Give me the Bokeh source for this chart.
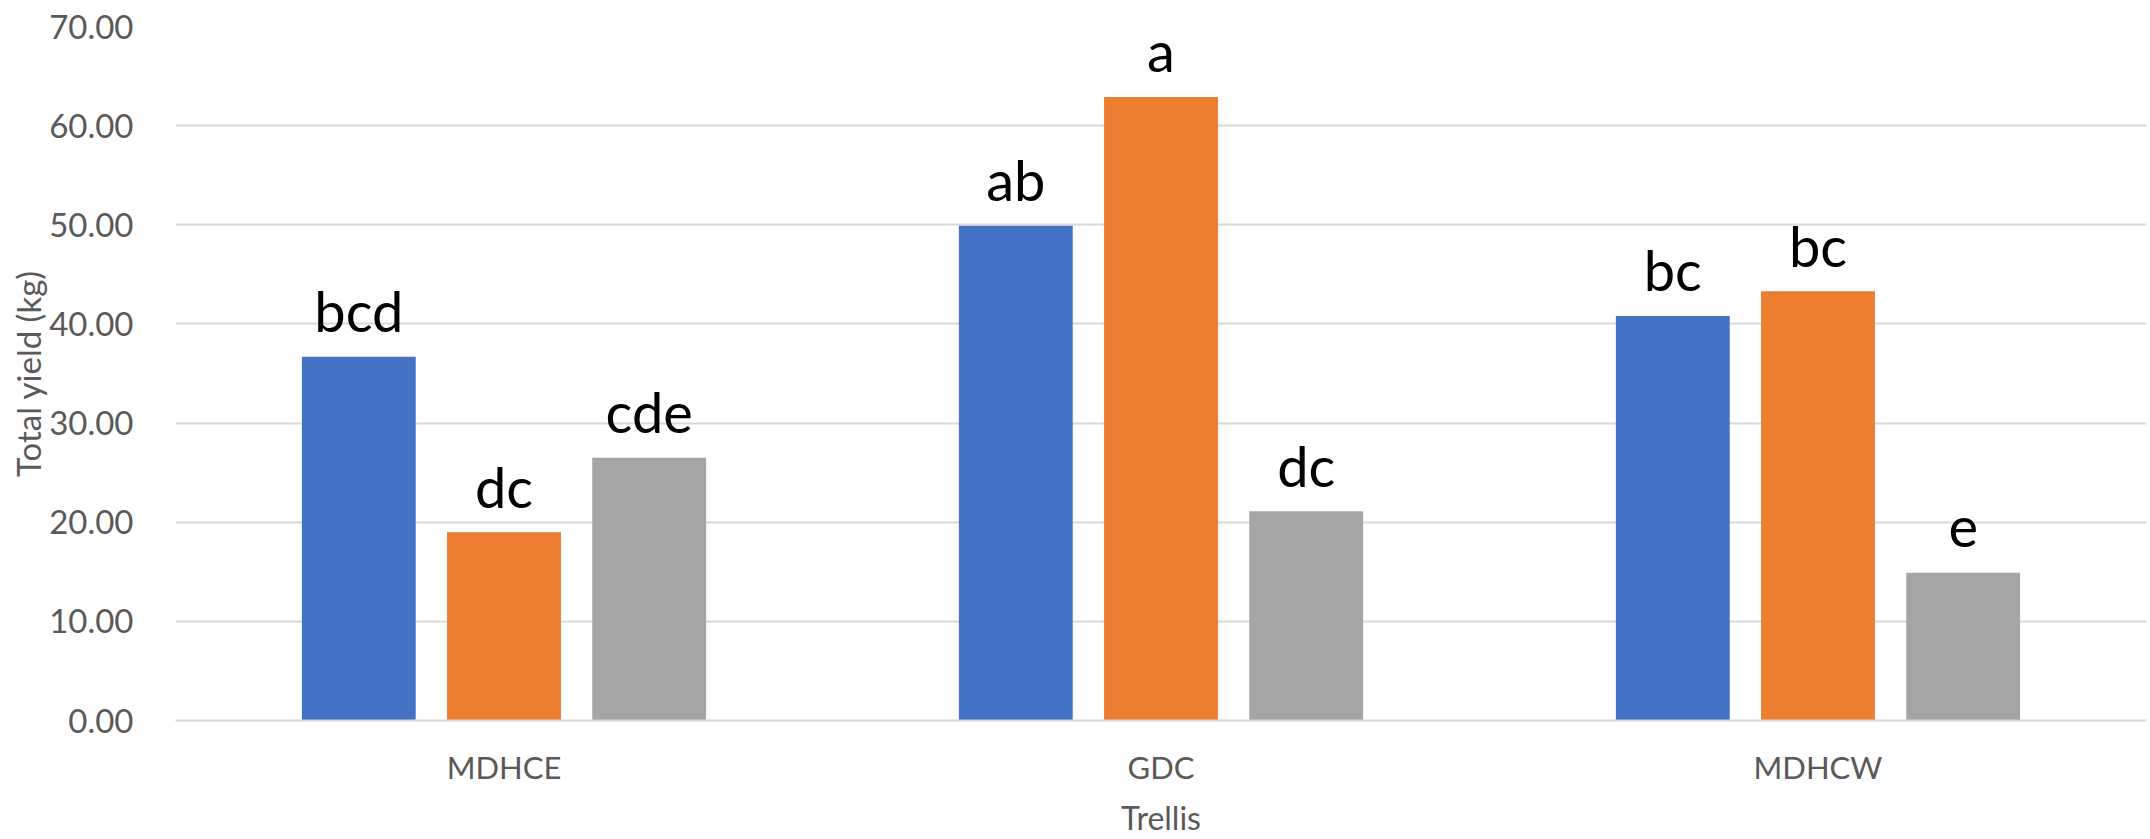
from bokeh.plotting import figure
from bokeh.models import FactorRange, Range1d, FixedTicker, NumeralTickFormatter, ColumnDataSource
from bokeh.transform import dodge
from bokeh.core.properties import value
from bokeh.embed import file_html
from bokeh.resources import INLINE

trellis = ["MDHCE", "GDC", "MDHCW"]
series1 = [36.7, 49.9, 40.8]
series2 = [19.0, 62.9, 43.3]
series3 = [26.5, 21.1, 14.9]
labels1 = ["bcd", "ab", "bc"]
labels2 = ["dc", "a", "bc"]
labels3 = ["cde", "dc", "e"]
y_ticks = [0, 10, 20, 30, 40, 50, 60, 70]

colors = ["#4472C4", "#ED7D31", "#A5A5A5"]
offsets = [-0.221, 0.0, 0.221]
FONT = "Lato"

p = figure(width=2150, height=839, x_range=FactorRange(factors=trellis),
           y_range=Range1d(0, 70), output_backend="svg", toolbar_location=None,
           min_border_left=175, min_border_top=26, min_border_right=4, min_border_bottom=100)
p.outline_line_color = None
p.background_fill_color = "white"
p.border_fill_color = "white"

for vals, labs, col, off in zip([series1, series2, series3], [labels1, labels2, labels3], colors, offsets):
    src = ColumnDataSource(dict(x=trellis, v=vals, lab=labs))
    p.vbar(x=dodge("x", off, range=p.x_range), top="v", bottom=0, width=0.1733,
           source=src, fill_color=col, line_color=None)
    p.text(x=dodge("x", off, range=p.x_range), y="v", text="lab", source=src,
           y_offset=-46, text_align="center", text_baseline="alphabetic",
           text_font=value(FONT), text_font_size="56px", text_color="black")

# grid
p.xgrid.grid_line_color = None
p.ygrid.grid_line_color = "#D9D9D9"
p.ygrid.grid_line_width = 2

# y axis
p.yaxis.ticker = FixedTicker(ticks=y_ticks)
p.yaxis.formatter = NumeralTickFormatter(format="0.00")
p.yaxis.axis_line_color = None
p.yaxis.major_tick_line_color = None
p.yaxis.minor_tick_line_color = None
p.yaxis.major_label_standoff = 36
p.yaxis.major_label_text_font = FONT
p.yaxis.major_label_text_font_size = "33px"
p.yaxis.major_label_text_color = "#595959"
p.yaxis.axis_label = "Total yield (kg)"
p.yaxis.axis_label_text_font = FONT
p.yaxis.axis_label_text_font_size = "33px"
p.yaxis.axis_label_text_font_style = "normal"
p.yaxis.axis_label_text_color = "#595959"
p.yaxis.axis_label_standoff = -2

# x axis
p.xaxis.axis_line_color = "#D9D9D9"
p.xaxis.axis_line_width = 2
p.xaxis.major_tick_line_color = None
p.xaxis.minor_tick_line_color = None
p.xaxis.major_label_standoff = 21
p.xaxis.major_label_text_font = FONT
p.xaxis.major_label_text_font_size = "31px"
p.xaxis.major_label_text_color = "#595959"
p.xaxis.axis_label = "Trellis"
p.xaxis.axis_label_text_font = FONT
p.xaxis.axis_label_text_font_size = "32px"
p.xaxis.axis_label_text_font_style = "normal"
p.xaxis.axis_label_text_color = "#595959"
p.xaxis.axis_label_standoff = 9

open("out.html", "w").write(file_html(p, INLINE))
